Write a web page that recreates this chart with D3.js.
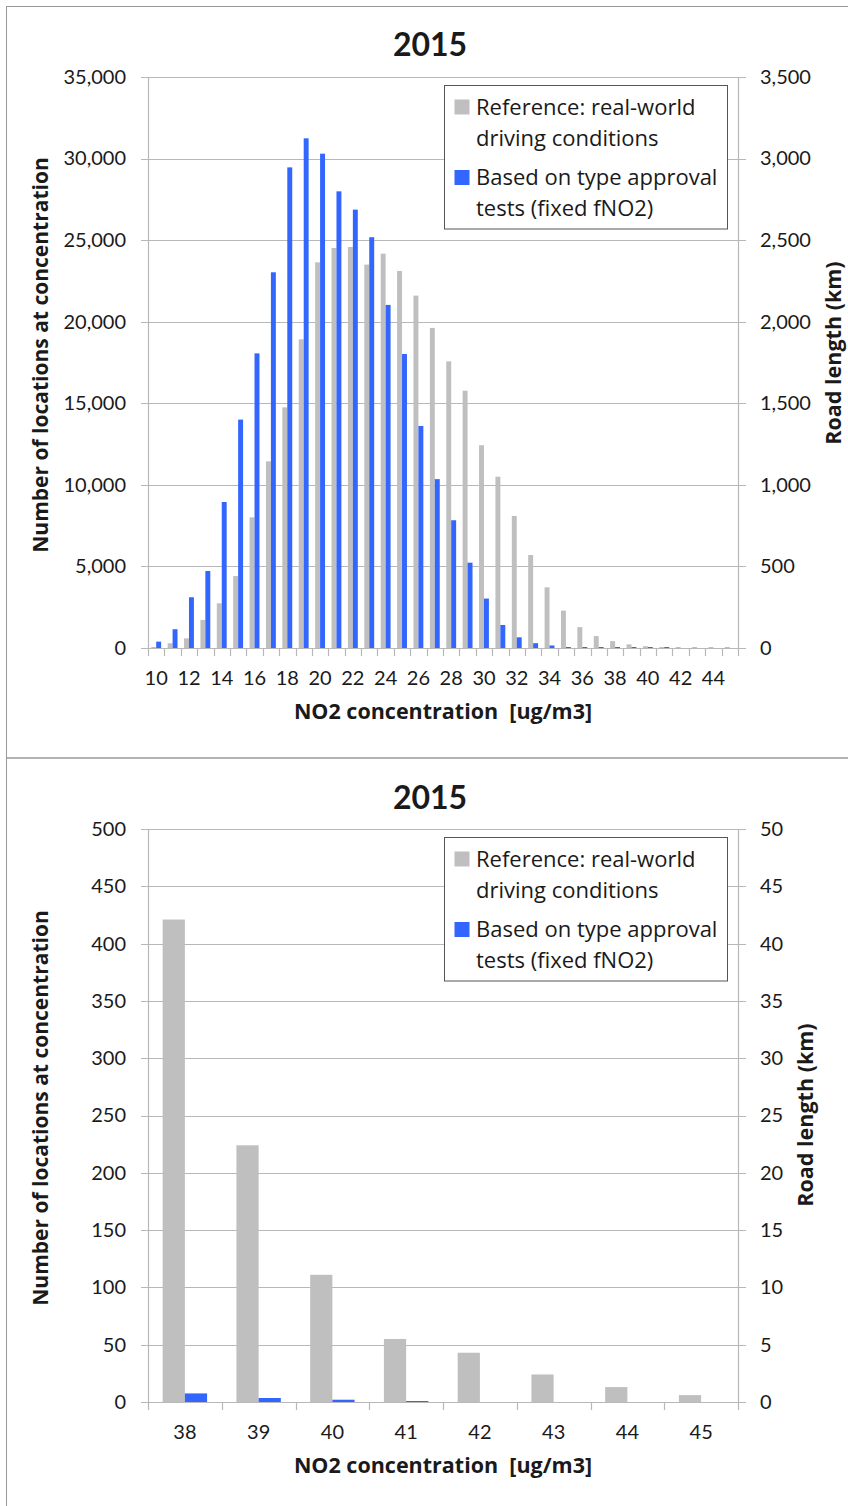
<!DOCTYPE html>
<html>
<head>
<meta charset="utf-8">
<script src="https://cdn.jsdelivr.net/npm/d3@7/dist/d3.min.js"></script>
<style>
  html, body { margin: 0; padding: 0; background: #fff; }
  svg { display: block; font-family: "Open Sans", Lato, sans-serif; }
</style>
</head>
<body>
<svg id="chart" width="848" height="1506"></svg>
<script>
// ---------- DATA ----------
const titleText = "2015";
const xAxisTitle = "NO2 concentration  [ug/m3]";
const leftAxisTitle = "Number of locations at concentration";
const rightAxisTitle = "Road length (km)";
const seriesNames = ["Reference: real-world driving conditions", "Based on type approval tests (fixed fNO2)"];
const legendLines = [["Reference: real-world", "driving conditions"], ["Based on type approval", "tests (fixed fNO2)"]];

// Top panel: concentrations 10..45
const categoriesTop = [10,11,12,13,14,15,16,17,18,19,20,21,22,23,24,25,26,27,28,29,30,31,32,33,34,35,36,37,38,39,40,41,42,43,44,45];
const referenceTop = [40,290,590,1720,2740,4410,8010,11440,14750,18920,23640,24520,24580,23500,24170,23110,21600,19620,17570,15770,12430,10500,8090,5700,3720,2290,1280,730,421,224,111,55,43,24,13,6];
const typeApprovalTop = [390,1150,3110,4720,8950,14000,18060,23030,29460,31240,30300,27990,26870,25180,21030,18020,13610,10350,7830,5230,3030,1410,655,295,155,50,30,18,8,4,2,1,0,0,0,0];
const xTickLabelsTop = ["10","12","14","16","18","20","22","24","26","28","30","32","34","36","38","40","42","44"];
const leftTicksTop = [0,5000,10000,15000,20000,25000,30000,35000];
const rightTicksTop = [0,500,1000,1500,2000,2500,3000,3500];

// Bottom panel: concentrations 38..45
const categoriesBottom = [38,39,40,41,42,43,44,45];
const referenceBottom = [421,224,111,55,43,24,13,6];
const typeApprovalBottom = [7.5,3.5,2,0.5,0,0,0,0];
const xTickLabelsBottom = ["38","39","40","41","42","43","44","45"];
const leftTicksBottom = [0,50,100,150,200,250,300,350,400,450,500];
const rightTicksBottom = [0,5,10,15,20,25,30,35,40,45,50];

// ---------- STYLE ----------
const colors = ["#bfbfbf", "#3366ff"];
const gridColor = "#b8b8b8";
const textColor = "#1a1a1a";
const tickFont = "Lato";

const svg = d3.select("#chart");

// panel frames
svg.append("rect").attr("x", 6.5).attr("y", 6.5).attr("width", 860).attr("height", 751.5)
  .attr("fill", "none").attr("stroke", "#999").attr("stroke-width", 1);
svg.append("rect").attr("x", 6.5).attr("y", 758).attr("width", 860).attr("height", 770)
  .attr("fill", "none").attr("stroke", "#999").attr("stroke-width", 1);

function drawPanel(cfg) {
  const g = svg.append("g");
  const {x0, x1, y0, y1} = cfg;

  const x = d3.scaleBand().domain(cfg.categories).range([x0, x1]).paddingInner(0).paddingOuter(0);
  const sub = d3.scaleBand().domain([0, 1]).range([0, x.bandwidth()]).paddingInner(0).paddingOuter(0.66);
  const y = d3.scaleLinear().domain([0, cfg.leftMax]).range([y1, y0]);
  const yR = d3.scaleLinear().domain([0, cfg.rightMax]).range([y1, y0]);

  // gridlines (incl. outward ticks on both sides)
  g.append("g").selectAll("line").data(cfg.leftTicks).join("line")
    .attr("x1", x0 - 7).attr("x2", x1 + 8)
    .attr("y1", d => Math.round(y(d)) + 0.5).attr("y2", d => Math.round(y(d)) + 0.5)
    .attr("stroke", gridColor).attr("stroke-width", 1.2);

  // bars
  const series = [cfg.reference, cfg.typeApproval];
  series.forEach((vals, si) => {
    g.append("g").selectAll("rect").data(cfg.categories.map((c, i) => ({c, v: vals[i]}))).join("rect")
      .attr("x", d => x(d.c) + sub(si))
      .attr("width", sub.bandwidth())
      .attr("y", d => {
        const h = Math.max(y1 - y(d.v), d.v > 0 ? 1 : 0);
        return y1 - h;
      })
      .attr("height", d => Math.max(y1 - y(d.v), d.v > 0 ? 1 : 0))
      .attr("fill", colors[si]);
  });

  // left axis
  const la = g.append("g").attr("transform", `translate(${x0},0)`)
    .call(d3.axisLeft(y).tickValues(cfg.leftTicks).tickFormat(d3.format(",")).tickSize(0).tickPadding(22));
  la.select(".domain").attr("stroke", gridColor).attr("stroke-width", 1.2);
  la.selectAll("text").attr("font-size", 20).attr("fill", textColor).attr("font-family", tickFont);

  // right axis
  const ra = g.append("g").attr("transform", `translate(${x1},0)`)
    .call(d3.axisRight(yR).tickValues(cfg.rightTicks).tickFormat(d3.format(",")).tickSize(0).tickPadding(22));
  ra.select(".domain").attr("stroke", gridColor).attr("stroke-width", 1.2);
  ra.selectAll("text").attr("font-size", 20).attr("fill", textColor).attr("font-family", tickFont);

  // bottom axis: tick marks at category boundaries
  const boundaries = cfg.categories.map(c => x(c)).concat([x1]);
  g.append("g").selectAll("line").data(boundaries).join("line")
    .attr("x1", d => Math.round(d) + 0.5).attr("x2", d => Math.round(d) + 0.5)
    .attr("y1", y1).attr("y2", y1 + 8)
    .attr("stroke", gridColor).attr("stroke-width", 1.2);
  const ba = g.append("g").attr("transform", `translate(0,${y1})`)
    .call(d3.axisBottom(x).tickValues(cfg.categories.filter(c => cfg.xLabels.includes(String(c))))
      .tickSize(0).tickPadding(22.5));
  ba.select(".domain").remove();
  ba.selectAll("text").attr("font-size", 20).attr("fill", textColor).attr("font-family", tickFont);

  // title
  g.append("text").attr("x", 430).attr("y", cfg.titleY).attr("text-anchor", "middle")
    .attr("font-family", "Lato")
    .attr("font-size", 32).attr("font-weight", "bold").attr("fill", textColor).text(titleText);

  // x-axis title
  g.append("text").attr("x", 443).attr("y", y1 + 71).attr("text-anchor", "middle")
    .attr("font-size", 21.5).attr("font-weight", "bold").attr("fill", textColor)
    .style("white-space", "pre").text(xAxisTitle);

  // left title
  g.append("text").attr("transform", `translate(48,${cfg.leftTitleY}) rotate(-90)`)
    .attr("text-anchor", "middle").attr("font-size", 21).attr("font-weight", "bold").attr("fill", textColor)
    .text(leftAxisTitle);

  // right title
  g.append("text").attr("transform", `translate(${cfg.rightTitleX},${cfg.rightTitleY}) rotate(-90)`)
    .attr("text-anchor", "middle").attr("font-size", 21.5).attr("font-weight", "bold").attr("fill", textColor)
    .text(rightAxisTitle);

  // legend
  const lg = g.append("g").attr("transform", `translate(444.5,${y0 + 8.5})`);
  lg.append("rect").attr("x", 0).attr("y", 0).attr("width", 283).attr("height", 143.5)
    .attr("fill", "#fff").attr("stroke", "#555").attr("stroke-width", 1);
  legendLines.forEach((lines, i) => {
    const yy = 14 + i * 70.5;
    lg.append("rect").attr("x", 10).attr("y", yy).attr("width", 15).attr("height", 15).attr("fill", colors[i]);
    lines.forEach((t, j) => {
      lg.append("text").attr("x", 31.5).attr("y", yy + 15 + j * 31).attr("font-size", 22)
        .attr("fill", textColor).text(t);
    });
  });
}

drawPanel({
  categories: categoriesTop, reference: referenceTop, typeApproval: typeApprovalTop,
  xLabels: xTickLabelsTop, leftTicks: leftTicksTop, rightTicks: rightTicksTop,
  leftMax: 35000, rightMax: 3500,
  x0: 148, x1: 738, y0: 77, y1: 648,
  titleY: 56, leftTitleY: 355, rightTitleX: 841, rightTitleY: 353
});

drawPanel({
  categories: categoriesBottom, reference: referenceBottom, typeApproval: typeApprovalBottom,
  xLabels: xTickLabelsBottom, leftTicks: leftTicksBottom, rightTicks: rightTicksBottom,
  leftMax: 500, rightMax: 50,
  x0: 148, x1: 738, y0: 829, y1: 1402,
  titleY: 809, leftTitleY: 1108, rightTitleX: 813, rightTitleY: 1115
});
</script>
</body>
</html>
